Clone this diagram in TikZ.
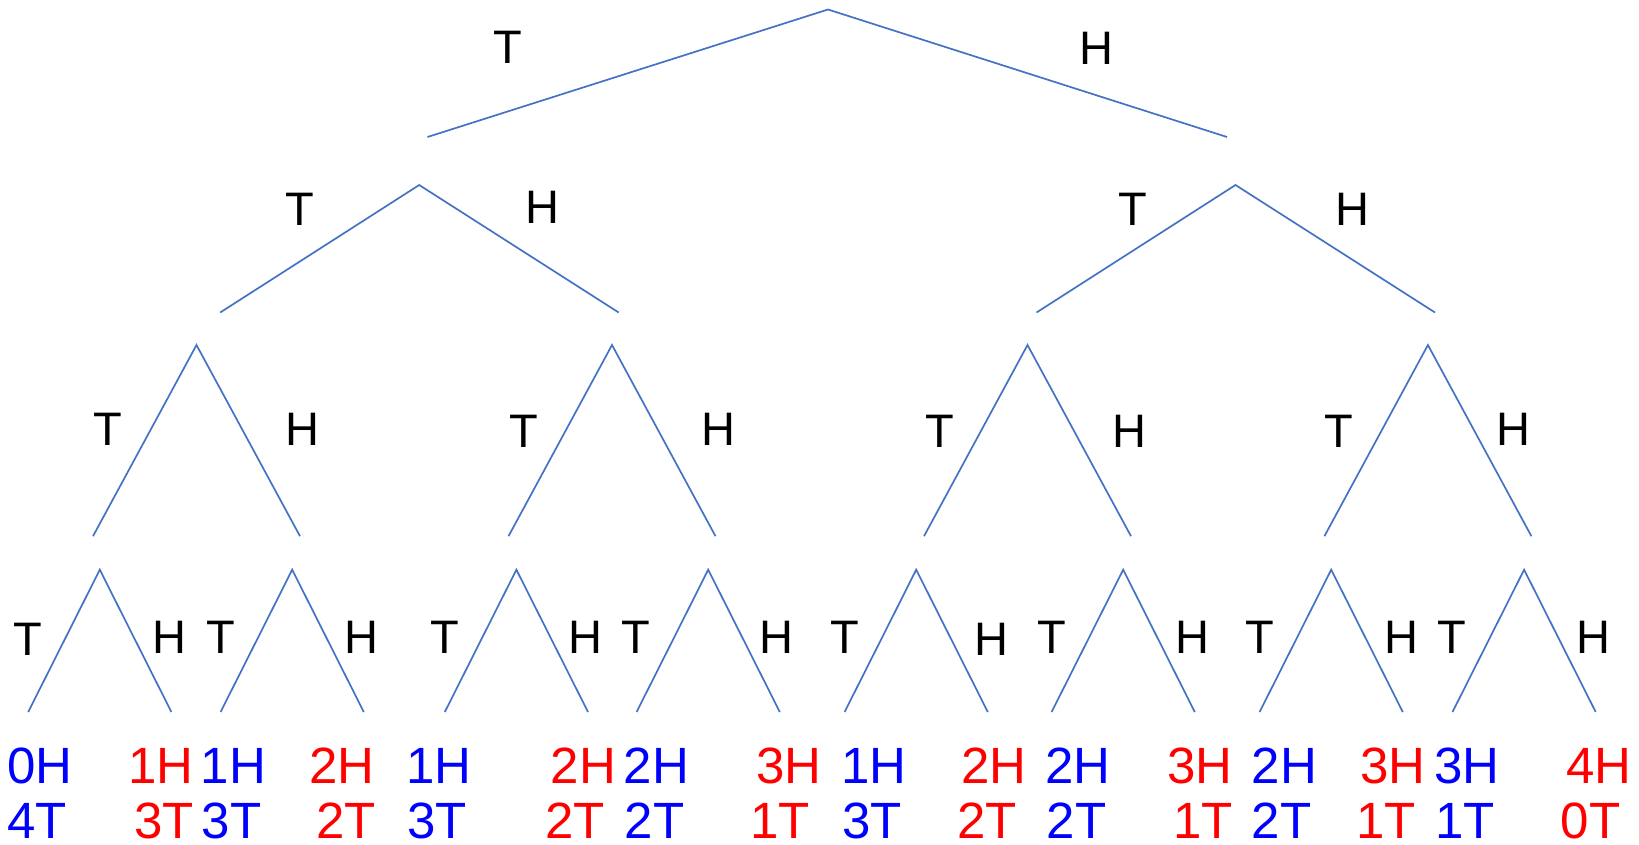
\documentclass[tikz,border=0pt]{standalone}
\usepackage{fontspec}
\setmainfont{Liberation Sans}
\definecolor{branch}{RGB}{68,114,196}
\definecolor{oblue}{RGB}{0,0,255}
\definecolor{ored}{RGB}{255,0,0}
\begin{document}
\begin{tikzpicture}[x=1pt,y=-1pt,
  br/.style={draw=branch,line width=1.7pt},
  lab/.style={font=\fontsize{47}{50}\selectfont,inner sep=0pt,text=black},
  outtxt/.style={font=\fontsize{51}{54}\selectfont,inner sep=0pt}]
\useasboundingbox (0,0) rectangle (1639,844);
% level 1
\coordinate (r) at (828,9.5);
\coordinate (rT) at (427.5,137);
\coordinate (rH) at (1227,137);
\draw[br] (rT) -- (r) -- (rH);
\node[lab] (lrT) at (508,47) {T};
\node[lab] (lrH) at (1096.5,48) {H};
% level 2
\foreach \i/\x in {1/419.2,2/1235.5}{
  \coordinate (b\i) at (\x,185);
  \coordinate (b\i T) at (\x-199,312.5);
  \coordinate (b\i H) at (\x+199.5,312.5);
  \draw[br] (b\i T) -- (b\i) -- (b\i H);
}
\node[lab] (lb1T) at (300,209) {T};
\node[lab] (lb1H) at (542.5,207) {H};
\node[lab] (lb2T) at (1133,209) {T};
\node[lab] (lb2H) at (1352.6,209) {H};
% level 3
\foreach \i/\x in {1/196.5,2/612,3/1027.5,4/1427.9}{
  \coordinate (c\i) at (\x,345);
  \coordinate (c\i T) at (\x-103.5,536.2);
  \coordinate (c\i H) at (\x+103.5,536.2);
  \draw[br] (c\i T) -- (c\i) -- (c\i H);
}
\foreach \i/\xt/\yt/\xh/\yh in {1/107.7/429.6/302/429.6,2/523.7/431.7/718/429.6,
    3/939.7/431.7/1129/431.7,4/1339/431.7/1513.6/429.6}{
  \node[lab] (lc\i T) at (\xt,\yt) {T};
  \node[lab] (lc\i H) at (\xh,\yh) {H};
}
% level 4
\foreach \i/\x in {1/99.8,2/292.2,3/516.4,4/708.2,5/916.2,6/1123.2,7/1331.2,8/1524.1}{
  \coordinate (d\i) at (\x,569.7);
  \coordinate (d\i T) at (\x-71.6,712);
  \coordinate (d\i H) at (\x+71.6,712);
  \draw[br] (d\i T) -- (d\i) -- (d\i H);
}
\foreach \i/\xt/\yt/\xh/\yh in {1/28.2/639.7/169.3/637.6,2/220.6/637.6/361.7/637.6,
    3/445.3/637.6/585.4/637.6,4/635.5/637.6/776.7/637.6,5/844.6/637.6/991/639.7,
    6/1051.6/637.6/1192.7/637.6,7/1259.6/637.6/1401.7/637.6,8/1451.9/637.6/1593/637.6}{
  \node[lab] (ld\i T) at (\xt,\yt) {T};
  \node[lab] (ld\i H) at (\xh,\yh) {H};
}
% outcomes
\foreach \n/\xa/\xb/\a/\b/\c in {
   1/39.7/37.2/0H/4T/oblue, 2/161/164.3/1H/3T/ored,
   3/233.5/231.5/1H/3T/oblue, 4/341.8/346/2H/2T/ored,
   5/439/437/1H/3T/oblue, 6/583.3/575/2H/2T/ored,
   7/656.4/654.4/2H/2T/oblue, 8/789.2/779.8/3H/1T/ored,
   9/873.9/871.8/1H/3T/oblue, 10/994/986.8/2H/2T/ored,
   11/1077.7/1076.7/2H/2T/oblue, 12/1200/1203.1/3H/1T/ored,
   13/1284.5/1281.6/2H/2T/oblue, 14/1393.2/1385.8/3H/1T/ored,
   15/1467/1465/3H/1T/oblue, 16/1598.6/1590.5/4H/0T/ored}{
  \node[outtxt,text=\c] (o\n a) at (\xa,766) {\a};
  \node[outtxt,text=\c] (o\n b) at (\xb,821) {\b};
}
\end{tikzpicture}
\end{document}
